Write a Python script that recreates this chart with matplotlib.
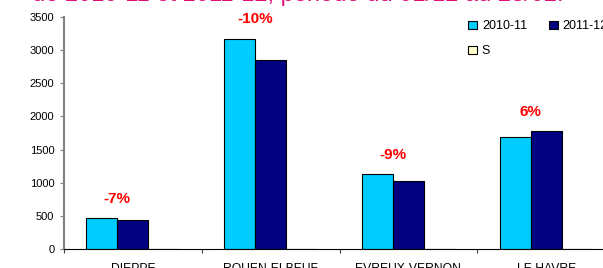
import matplotlib.pyplot as plt
import numpy as np
from matplotlib.patches import Patch

plt.rcParams["font.family"] = ["Liberation Sans", "DejaVu Sans"]

# data
sites = ["DIEPPE", "ROUEN-ELBEUF", "EVREUX-VERNON", "LE HAVRE"]
season_2010 = [465, 3175, 1130, 1685]
season_2011 = [432, 2855, 1030, 1780]
season_other = [0, 0, 0, 0]
changes = ["-7%", "-10%", "-9%", "6%"]
legend_labels = ["2010-11", "2011-12", "S"]
title = "de 2010-11 et 2011-12, période du 01/12 au 28/02."


def main() -> None:
    fig = plt.figure(figsize=(6.03, 2.68), dpi=100)
    ax = fig.add_axes([0.1061, 0.0709, 0.9139, 0.8657])

    x = np.arange(len(sites))
    w = 0.225
    ax.bar(x - w, season_2010, w, color="#00ccff", edgecolor="black", linewidth=0.8)
    ax.bar(x, season_2011, w, color="#000080", edgecolor="black", linewidth=0.8)
    ax.bar(x + w, season_other, w, color="#ffffcc", edgecolor="black", linewidth=0.8)

    for i, lab in enumerate(changes):
        top = max(season_2010[i], season_2011[i])
        ax.annotate(lab, (x[i] - w / 2, top), xytext=(0, 9), textcoords="offset points",
                    ha="center", va="bottom", color="#ff0000", fontsize=11, fontweight="bold")

    ax.set_xlim(-0.5, 3.5)
    ax.set_ylim(0, 3500)
    ax.set_yticks(np.arange(0, 3501, 500))
    ax.set_xticks(np.arange(-0.5, 4, 1), minor=False)
    ax.set_xticklabels([])
    ax.set_xticks(x, minor=True)
    ax.set_xticklabels(sites, minor=True)
    ax.tick_params(axis="x", which="minor", length=0, pad=10, labelsize=8.7)
    ax.tick_params(axis="x", which="major", length=3, color="#404040")
    ax.tick_params(axis="y", length=3, labelsize=8, color="#808080", pad=4)

    for s in ["top", "right"]:
        ax.spines[s].set_visible(False)
    ax.spines["left"].set_color("#808080")
    ax.spines["left"].set_linewidth(1.5)
    ax.spines["bottom"].set_color("black")

    colors = ["#00ccff", "#000080", "#ffffcc"]
    handles = [Patch(facecolor=c, edgecolor="black", linewidth=0.8) for c in colors]
    # column-major fill: reorder so the first row reads 2010-11, 2011-12
    order = [0, 2, 1]
    fig.legend([handles[k] for k in order], [legend_labels[k] for k in order],
               ncol=2, loc="upper left",
               bbox_to_anchor=(0.768, 0.943), frameon=False, fontsize=9,
               handlelength=0.7, handleheight=0.7, handletextpad=0.4,
               columnspacing=1.75, labelspacing=1.05, borderaxespad=0)

    fig.text(0.493, 0.997, title, ha="center", va="baseline", color="#e0107a", fontsize=17)

    fig.savefig("out.png", dpi=100)


if __name__ == "__main__":
    main()
